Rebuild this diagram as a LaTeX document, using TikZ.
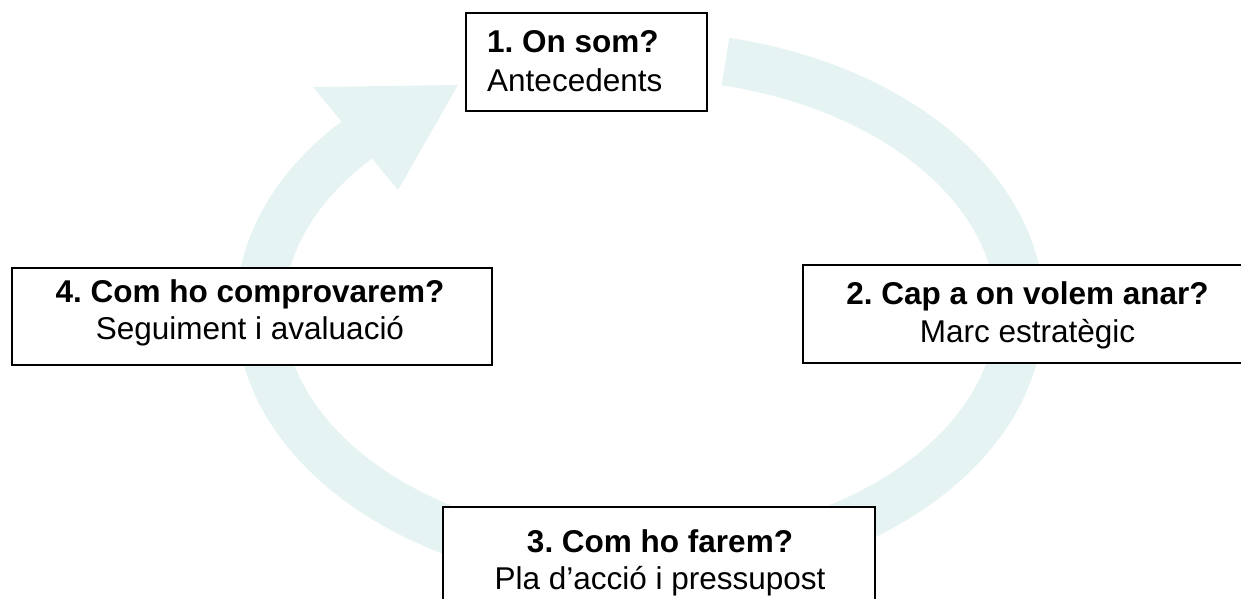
\documentclass[tikz,border=0pt]{standalone}
\usepackage{fontspec}
\setmainfont{Liberation Sans}
\frenchspacing
\definecolor{ringc}{RGB}{230,243,243}
\tikzset{
  box/.style={draw=black, line width=1.3pt, fill=white, rectangle, inner sep=0pt},
  txt/.style={inner sep=0pt, font=\fontsize{31.5}{38}\selectfont},
  btxt/.style={txt, font=\fontsize{31.5}{38}\selectfont\bfseries},
}
\begin{document}
\begin{tikzpicture}[x=1pt,y=1pt]
\useasboundingbox (0,0) rectangle (1241,599);
\clip (0,0) rectangle (1241,599);
% cycle arrow
\draw[ringc, line width=48pt, line cap=butt]
  (725.5,537.5) arc[start angle=77, end angle=-222, x radius=380, y radius=255];
\fill[ringc] (313,512) -- (458,514) -- (398,409) -- cycle;
% boxes
\node[box, minimum width=241pt, minimum height=98pt] (b1) at (586.5,537) {};
\node[box, minimum width=449pt, minimum height=98pt] (b2) at (1027.5,285) {};
\node[box, minimum width=432pt, minimum height=113pt] (b3) at (659,35.5) {};
\node[box, minimum width=480pt, minimum height=97pt] (b4) at (252,282.5) {};
% texts
\node[btxt, anchor=base west] (t1a) at (487,546) {1. On som?};
\node[txt, anchor=base west] (t1b) at (487,507) {Antecedents};
\node[btxt, anchor=base] (t2a) at (1027.5,294) {2. Cap a on volem anar?};
\node[txt, anchor=base] (t2b) at (1027.5,256) {Marc estratègic};
\node[btxt, anchor=base] (t3a) at (660,46) {3. Com ho farem?};
\node[txt, anchor=base] (t3b) at (660,9) {Pla d’acció i pressupost};
\node[btxt, anchor=base] (t4a) at (250,296) {4. Com ho comprovarem?};
\node[txt, anchor=base] (t4b) at (250,259) {Seguiment i avaluació};
\end{tikzpicture}
\end{document}
